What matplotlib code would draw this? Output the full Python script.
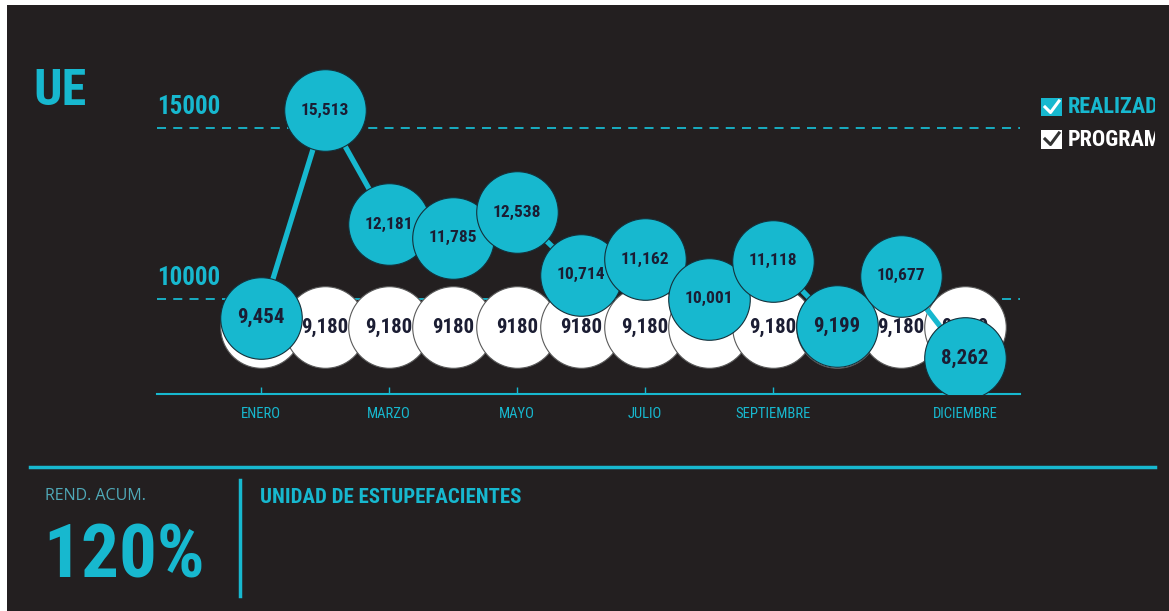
import matplotlib
matplotlib.use('Agg')
import matplotlib.pyplot as plt
from matplotlib.patches import Rectangle

plt.rcParams['font.family'] = ['Roboto Condensed', 'Liberation Sans Narrow',
                               'DejaVu Sans Condensed', 'DejaVu Sans']
plt.rcParams['font.stretch'] = 'condensed'

BG = '#231f20'
CYAN = '#17b8cf'
INK = '#1b1d33'

meses = ['ENERO', 'FEBRERO', 'MARZO', 'ABRIL', 'MAYO', 'JUNIO', 'JULIO',
         'AGOSTO', 'SEPTIEMBRE', 'OCTUBRE', 'NOVIEMBRE', 'DICIEMBRE']
tick_idx = [0, 2, 4, 6, 8, 11]
realizado = [9454, 15513, 12181, 11785, 12538, 10714, 11162, 10001, 11118, 9199, 10677, 8262]
programado = [9180] * 12
programado_labels = ['9,180', '9,180', '9,180', '9180', '9180', '9180', '9,180',
                     '9,180', '9,180', '9,180', '9,180', '9,180']
y_ticks = [10000, 15000]
rend_acum = '120%'

fig = plt.figure(figsize=(11.69, 6.11), dpi=100)
fig.patch.set_facecolor('white')
W, H = 1169, 611
fig.patches.append(Rectangle((7 / W, 0), 1 - 7 / W, 1 - 5 / H, transform=fig.transFigure,
                             facecolor=BG, edgecolor='none', zorder=-5))

ax = fig.add_axes([157 / W, (H - 394) / H, (1020 - 157) / W, 334.4 / H])
ax.set_facecolor('none')
x = list(range(12))
ax.set_xlim(-1.625, 11.86)
ax.set_ylim(7222, 17000)

for t in y_ticks:
    ax.axhline(t, color=CYAN, lw=1.3, ls=(0, (5, 4)), zorder=1)
    ax.text(-1.625, t + 250, str(t), color=CYAN, fontsize=18, fontweight='bold',
            ha='left', va='bottom', zorder=1)

ms = 3450
ax.scatter(x, programado, s=ms, color='white', edgecolor='#5a5a5a', linewidth=0.8, zorder=2)
for i, (v, lab) in enumerate(zip(programado, programado_labels)):
    ax.text(i, v, lab, color=INK, fontsize=15, fontweight='bold', ha='center', va='center', zorder=3)

ax.plot(x, realizado, color=CYAN, lw=3.8, zorder=4)
ax.scatter(x, realizado, s=ms, color=CYAN, edgecolor='#14303a', linewidth=0.8, zorder=5)
for i, v in enumerate(realizado):
    lab = f'{v:,}'
    ax.text(i, v, lab, color=INK, fontsize=15 if len(lab) <= 5 else 12.5,
            fontweight='bold', ha='center', va='center', zorder=6)

for s in ['top', 'right', 'left']:
    ax.spines[s].set_visible(False)
ax.spines['bottom'].set_color(CYAN)
ax.spines['bottom'].set_linewidth(1.5)
ax.set_yticks([])
ax.set_xticks(tick_idx)
ax.set_xticklabels([meses[i] for i in tick_idx])
ax.tick_params(axis='x', colors=CYAN, direction='in', length=5, width=1, labelsize=10.5, pad=9)

# title
fig.text(33 / W, 1 - 105 / H, 'UE', color=CYAN, fontsize=36, fontweight='bold', ha='left', va='baseline')

# legend, clipped on the right edge
lax = fig.add_axes([1040 / W, 1 - 155 / H, (1155 - 1040) / W, 65 / H])
lax.set_xlim(1040, 1155)
lax.set_ylim(155, 90)
lax.axis('off')
lax.add_patch(Rectangle((1041, 98), 21, 18, facecolor=CYAN, edgecolor='none'))
lax.plot([1045, 1050.5, 1059], [107, 112.5, 101], color='white', lw=2.2)
lax.add_patch(Rectangle((1041, 130), 21, 19, facecolor='white', edgecolor='none'))
lax.plot([1045, 1050.5, 1059], [139, 144.5, 133], color='#333333', lw=2.2)
lax.text(1068, 107, 'REALIZADO', color=CYAN, fontsize=16, fontweight='bold', va='center', clip_on=True)
lax.text(1068, 140, 'PROGRAMADO', color='white', fontsize=16, fontweight='bold', va='center', clip_on=True)

# bottom panel
fig.add_artist(plt.Line2D([30 / W, 1155 / W], [1 - 467 / H, 1 - 467 / H], color=CYAN, lw=2.5,
                          transform=fig.transFigure))
fig.add_artist(plt.Line2D([240 / W, 240 / W], [1 - 480 / H, 1 - 596 / H], color=CYAN, lw=2.5,
                          transform=fig.transFigure))
fig.text(45 / W, 1 - 500 / H, 'REND. ACUM.', color='#4fa9b8', fontsize=11.5, family='Open Sans',
         stretch='normal', ha='left', va='baseline')
fig.text(43 / W, 1 - 578 / H, rend_acum, color=CYAN, fontsize=54, fontweight='bold', ha='left', va='baseline')
fig.text(260 / W, 1 - 503 / H, 'UNIDAD DE ESTUPEFACIENTES', color=CYAN, fontsize=15, fontweight='bold',
         ha='left', va='baseline')

fig.savefig('out.png', dpi=100, facecolor=fig.get_facecolor())
